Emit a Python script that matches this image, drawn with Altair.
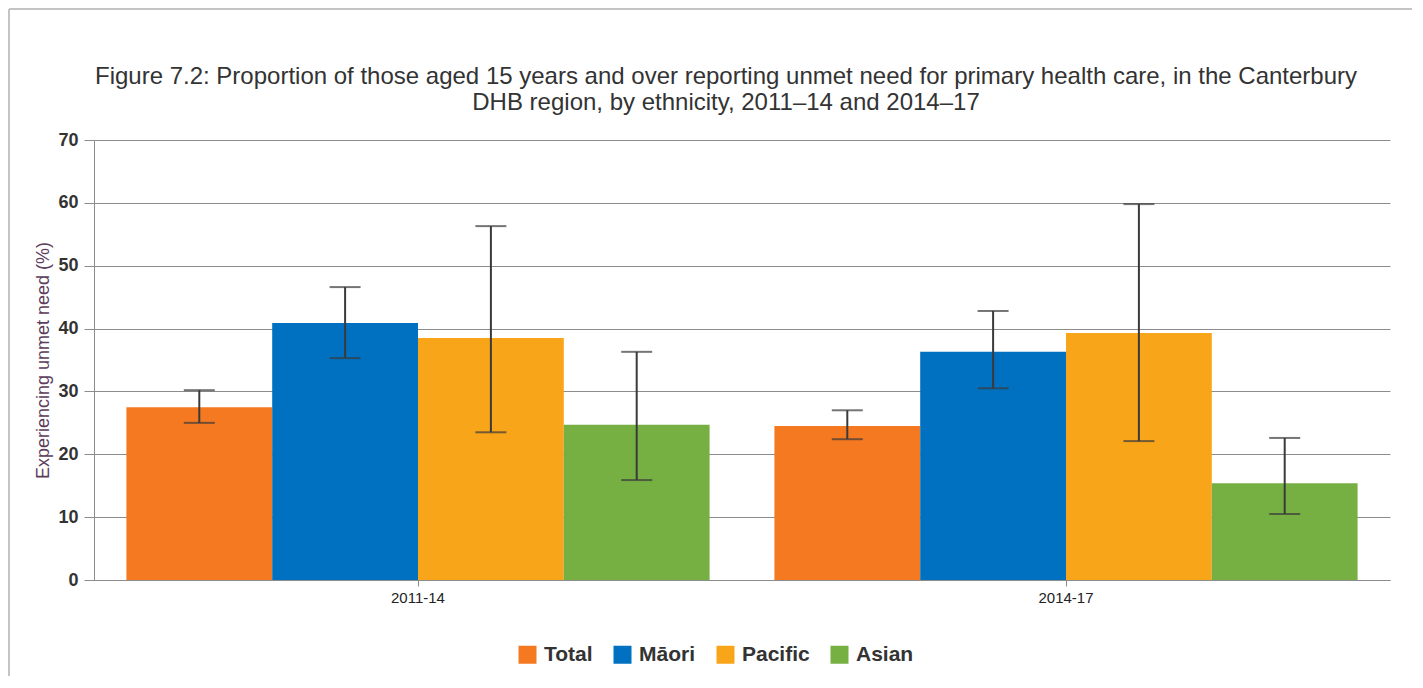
import altair as alt
import pandas as pd

periods = ["2011-14", "2014-17"]
ethnicities = ["Total", "Māori", "Pacific", "Asian"]
colors = ["#F47920", "#0070C0", "#F9A51A", "#76B043"]

values_2011 = [27.5, 40.9, 38.5, 24.7]
lower_2011 = [25.0, 35.3, 23.5, 15.9]
upper_2011 = [30.2, 46.6, 56.3, 36.3]

values_2014 = [24.5, 36.3, 39.3, 15.4]
lower_2014 = [22.4, 30.5, 22.1, 10.5]
upper_2014 = [27.0, 42.8, 59.8, 22.6]

title_lines = [
    "Figure 7.2: Proportion of those aged 15 years and over reporting unmet need for primary health care, in the Canterbury",
    "DHB region, by ethnicity, 2011–14 and 2014–17",
]

rows = []
for period, vals, los, his in [
    (periods[0], values_2011, lower_2011, upper_2011),
    (periods[1], values_2014, lower_2014, upper_2014),
]:
    for eth, v, lo, hi in zip(ethnicities, vals, los, his):
        rows.append({"period": period, "eth": eth, "value": v, "lo": lo, "hi": hi})
df = pd.DataFrame(rows)

font = "Liberation Sans"
err_color = "#3a3a3a"
frame_color = "#c4c4c4"

base = alt.Chart(df).encode(
    x=alt.X(
        "period:N",
        sort=periods,
        scale=alt.Scale(paddingInner=0.1, paddingOuter=0.05),
        axis=alt.Axis(
            title=None,
            labelAngle=0,
            labelFontSize=15,
            labelColor="#222",
            labelFont=font,
            domainColor="#8c8c8c",
            tickColor="#8c8c8c",
            tickSize=6,
            labelPadding=4,
            grid=False,
        ),
    ),
    xOffset=alt.XOffset(
        "eth:N", sort=ethnicities, scale=alt.Scale(paddingInner=0, paddingOuter=0)
    ),
)

yscale = alt.Scale(domain=[0, 70], nice=False)

bars = base.mark_bar().encode(
    y=alt.Y(
        "value:Q",
        scale=yscale,
        axis=alt.Axis(
            title="Experiencing unmet need (%)",
            titleFont=font,
            titleFontSize=18,
            titleFontWeight="normal",
            titleColor="#5c3d5c",
            titlePadding=5,
            values=[0, 10, 20, 30, 40, 50, 60, 70],
            labelFont=font,
            labelFontSize=18,
            labelFontWeight="bold",
            labelColor="#333",
            labelPadding=6,
            tickSize=10,
            tickColor="#8c8c8c",
            domainColor="#8c8c8c",
            gridColor="#8c8c8c",
            grid=True,
        ),
    ),
    color=alt.Color(
        "eth:N",
        sort=ethnicities,
        scale=alt.Scale(domain=ethnicities, range=colors),
        legend=alt.Legend(
            title=None,
            orient="none",
            legendX=423,
            legendY=504,
            direction="horizontal",
            symbolType="square",
            symbolSize=324,
            symbolStrokeWidth=0,
            symbolOffset=0,
            labelOffset=6,
            labelFont=font,
            labelFontSize=21,
            labelFontWeight="bold",
            labelColor="#333",
            columnPadding=19,
            padding=0,
        ),
    ),
)

rules = base.mark_rule(color=err_color, strokeWidth=2).encode(
    y=alt.Y("lo:Q", scale=yscale), y2="hi:Q"
)
caps_lo = base.mark_tick(color=err_color, thickness=2, size=31).encode(
    y=alt.Y("lo:Q", scale=yscale)
)
caps_hi = base.mark_tick(color=err_color, thickness=2, size=31).encode(
    y=alt.Y("hi:Q", scale=yscale)
)

single = pd.DataFrame({"k": [0]})

# chart title, drawn as two text lines centred above the plot
title1 = alt.Chart(single).mark_text(
    font=font, fontSize=24, color="#333", align="center", baseline="middle"
).encode(x=alt.value(632), y=alt.value(-63), text=alt.value(title_lines[0]))
title2 = alt.Chart(single).mark_text(
    font=font, fontSize=24, color="#333", align="center", baseline="middle"
).encode(x=alt.value(632), y=alt.value(-37), text=alt.value(title_lines[1]))

# light grey frame around the figure (top and left edges visible)
frame_top = alt.Chart(single).mark_rule(color=frame_color, strokeWidth=2).encode(
    x=alt.value(-85), x2=alt.value(1318), y=alt.value(-131)
)
frame_left = alt.Chart(single).mark_rule(color=frame_color, strokeWidth=2).encode(
    x=alt.value(-85), y=alt.value(-131), y2=alt.value(536)
)

chart = (
    alt.layer(bars, rules, caps_lo, caps_hi, title1, title2, frame_top, frame_left)
    .properties(
        width=1296,
        height=440,
        padding={"left": 0, "top": 0, "right": 0, "bottom": 0},
    )
    .configure_view(stroke=None)
)

chart.save("out.html", embed_options={"renderer": "svg", "actions": False})
